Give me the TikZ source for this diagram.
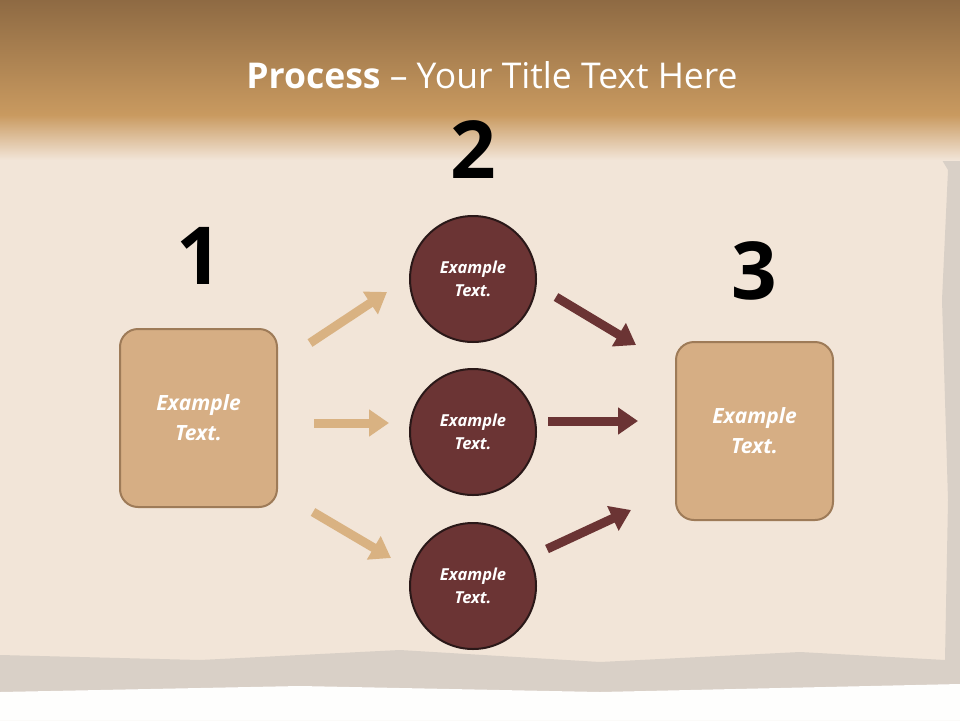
\documentclass[tikz,border=0pt]{standalone}
\usepackage{fontspec}
\setmainfont{Open Sans}
\usetikzlibrary{arrows.meta}
\definecolor{paper}{HTML}{F2E5D8}
\definecolor{topb}{HTML}{8E6A43}
\definecolor{midb}{HTML}{C99A60}
\definecolor{tan}{HTML}{D6AE84}
\definecolor{tanb}{HTML}{9E7B58}
\definecolor{lt}{HTML}{D9B282}
\definecolor{wine}{HTML}{6B3434}
\definecolor{wineb}{HTML}{2A1818}
\definecolor{grayb}{HTML}{D9D0C7}
\tikzset{
 box/.style={draw=tanb,line width=2pt,fill=tan,rounded corners=18pt,minimum width=157pt,minimum height=178pt,text=white,font=\bfseries\itshape\fontsize{21}{30}\selectfont,align=center},
 circ/.style={circle,draw=wineb,line width=2pt,fill=wine,minimum size=126pt,inner sep=0pt,text=white,font=\bfseries\itshape\fontsize{16.5}{23}\selectfont,align=center},
 num/.style={font=\bfseries\fontsize{80}{80}\selectfont},
 larr/.style={draw=lt,line width=9pt,-{Triangle[length=20pt,width=26pt]}},
 darr/.style={draw=wine,line width=9pt,-{Triangle[length=20pt,width=26pt]}}
}
\begin{document}
\begin{tikzpicture}[x=1pt,y=-1pt]
\useasboundingbox (0,0) rectangle (960,720);
\fill[paper] (0,0) rectangle (960,720);
\fill[grayb] (930,140) -- (960,140) -- (960,720) -- (0,720) -- (0,655) -- (200,660) -- (400,650) -- (600,662) -- (800,652) -- (945,660) -- (948,500) -- (942,300) -- (948,170) -- cycle;
\fill[white!95!paper] (0,692) -- (300,686) -- (600,692) -- (960,684) -- (960,720) -- (0,720) -- cycle;
\shade[top color=topb,bottom color=midb] (0,0) rectangle (960,115);
\shade[top color=midb,bottom color=paper] (0,115) rectangle (960,160);
\node (title) at (492,75) {\color{white}\fontsize{35.5}{40}\selectfont\textbf{Process} – Your Title Text Here};
\node[box] (b1) at (198.5,418) {Example\\Text.};
\node[box] (b3) at (754.5,431) {Example\\Text.};
\node[circ] (c1) at (473,279) {Example\\Text.};
\node[circ] (c2) at (473,432) {Example\\Text.};
\node[circ] (c3) at (473,586) {Example\\Text.};
\node[num] (n1) at (199,256) {1};
\node[num] (n2) at (473,150) {2};
\node[num] (n3) at (754,271) {3};
\coordinate (a1s) at (310,343); \coordinate (a1e) at (387,292);
\coordinate (a2s) at (314,423); \coordinate (a2e) at (389,423);
\coordinate (a3s) at (313,512); \coordinate (a3e) at (391,558);
\coordinate (d1s) at (556,297); \coordinate (d1e) at (636,345);
\coordinate (d2s) at (548,421); \coordinate (d2e) at (638,421);
\coordinate (d3s) at (547,549); \coordinate (d3e) at (631,510);
\draw[larr] (a1s) -- (a1e);
\draw[larr] (a2s) -- (a2e);
\draw[larr] (a3s) -- (a3e);
\draw[darr] (d1s) -- (d1e);
\draw[darr] (d2s) -- (d2e);
\draw[darr] (d3s) -- (d3e);
\end{tikzpicture}
\end{document}
